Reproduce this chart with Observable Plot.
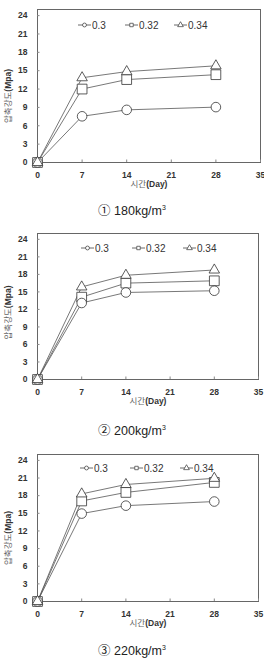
<!DOCTYPE html>
<html><head><meta charset="utf-8">
<script src="https://cdn.jsdelivr.net/npm/d3@7"></script>
<script src="https://cdn.jsdelivr.net/npm/@observablehq/plot@0.6"></script>
<style>
html,body{margin:0;padding:0;background:#fff;}
.panel{position:relative;width:264px;height:220px;}
.cap{height:25px;line-height:25px;text-align:center;font-family:"Liberation Sans","Noto Sans CJK KR",sans-serif;font-size:12.5px;color:#222;}
.leg{position:absolute;left:0;top:0;}
</style></head>
<body><div id="root"></div>
<script>
const days = [0, 7, 14, 28];
const ratios = ["0.3", "0.32", "0.34"];
const xTicks = [0, 7, 14, 21, 28, 35];
const yTicks = [0, 3, 6, 9, 12, 15, 18, 21, 24];
const yLabel = "압축강도(Mpa)";
const xLabel = "시간(Day)";

const c180_030 = [0, 7.55, 8.6, 9.05];
const c180_032 = [0, 12.0, 13.55, 14.35];
const c180_034 = [0, 13.85, 14.85, 15.8];
const c200_030 = [0, 13.1, 14.9, 15.2];
const c200_032 = [0, 14.1, 16.5, 16.9];
const c200_034 = [0, 15.85, 17.85, 18.75];
const c220_030 = [0, 14.95, 16.3, 17.0];
const c220_032 = [0, 17.1, 18.55, 20.25];
const c220_034 = [0, 18.3, 19.9, 20.95];

const captions = ["① 180kg/m", "② 200kg/m", "③ 220kg/m"];
const panels = [
  [c180_030, c180_032, c180_034],
  [c200_030, c200_032, c200_034],
  [c220_030, c220_032, c220_034]
];

// layout per panel
const mTop = [9, 13, 14];
const mBottom = [33, 36, 34];
const mRight = [4, 6, 6];
const legY = [25, 28, 28];
const legX = [[78, 125, 174], [81, 132, 183], [80, 130, 180]];
const yLabDy = [10, 6, 10];

const FONT = '"Liberation Sans","Noto Sans CJK KR",sans-serif';
const symbolRange = ["circle", "square", "triangle"];
const symbolR = [4.8, 5.5, 3.9];
const d3Symbols = [d3.symbolCircle, d3.symbolSquare, d3.symbolTriangle];

function rows(set) {
  const out = [];
  set.forEach((vals, i) => vals.forEach((v, j) => out.push({day: days[j], val: v, ratio: ratios[i], r: symbolR[i]})));
  return out;
}

function mixLabel(svg, label) {
  d3.select(svg).selectAll("text").each(function() {
    if (this.textContent === label) {
      const k = label.indexOf("(");
      const t = d3.select(this);
      t.text(null);
      t.append("tspan").attr("font-weight", "normal").attr("fill", "#666").text(label.slice(0, k));
      t.append("tspan").attr("font-weight", "bold").attr("fill", "#333").text(label.slice(k));
    }
  });
}

function legend(p) {
  const svg = d3.create("svg").attr("width", 264).attr("height", 40).attr("class", "leg");
  ratios.forEach((r, i) => {
    const g = svg.append("g").attr("transform", `translate(${legX[p][i]},${legY[p]})`);
    g.append("line").attr("x1", 0).attr("x2", 13).attr("y1", 0).attr("y2", 0).attr("stroke", "#444").attr("stroke-width", 0.8);
    g.append("path").attr("d", d3.symbol(d3Symbols[i], i === 2 ? 14 : 12)()).attr("transform", "translate(6.5,0)")
      .attr("fill", "white").attr("stroke", "#333").attr("stroke-width", 0.7);
    g.append("text").attr("x", 14).attr("y", 0).attr("dy", "0.36em").attr("font-family", FONT)
      .attr("font-size", 10).attr("fill", "#333").text(r);
  });
  return svg.node();
}

const root = document.getElementById("root");
panels.forEach((set, p) => {
  const data = rows(set);
  const div = document.createElement("div");
  div.className = "panel";
  const chart = Plot.plot({
    width: 264, height: 195,
    marginLeft: 37, marginRight: mRight[p], marginTop: mTop[p], marginBottom: mBottom[p],
    style: {fontFamily: FONT, fontSize: "8.5px", fontWeight: "bold", color: "#333", background: "white"},
    x: {domain: [0, 35]},
    y: {domain: [0, 25]},
    r: {type: "identity"},
    symbol: {domain: ratios, range: symbolRange},
    marks: [
      Plot.frame({stroke: "#666", strokeWidth: 1}),
      Plot.axisY({ticks: yTicks, tickSize: -2.5, tickPadding: 12.5, stroke: "#888", label: null}),
      Plot.axisX({ticks: xTicks, tickSize: -2.5, tickPadding: 11.5, stroke: "#888", label: null}),
      Plot.text([xLabel], {text: d => d, frameAnchor: "bottom", textAnchor: "middle", lineAnchor: "middle", dy: 22, fontSize: 8.5}),
      Plot.text([yLabel], {text: d => d, frameAnchor: "left", textAnchor: "middle", lineAnchor: "middle", dx: -29, dy: yLabDy[p], rotate: -90, fontSize: 8.5}),
      Plot.line(data, {x: "day", y: "val", z: "ratio", stroke: "#555", strokeWidth: 0.8}),
      Plot.dot(data, {x: "day", y: "val", symbol: "ratio", r: "r", stroke: "#333", fill: "white", strokeWidth: 0.8})
    ]
  });
  mixLabel(chart, xLabel);
  mixLabel(chart, yLabel);
  div.appendChild(chart);
  div.appendChild(legend(p));
  const cap = document.createElement("div");
  cap.className = "cap";
  cap.innerHTML = captions[p] + "<sup style='font-size:7px'>3</sup>";
  div.appendChild(cap);
  root.appendChild(div);
});
</script></body></html>
